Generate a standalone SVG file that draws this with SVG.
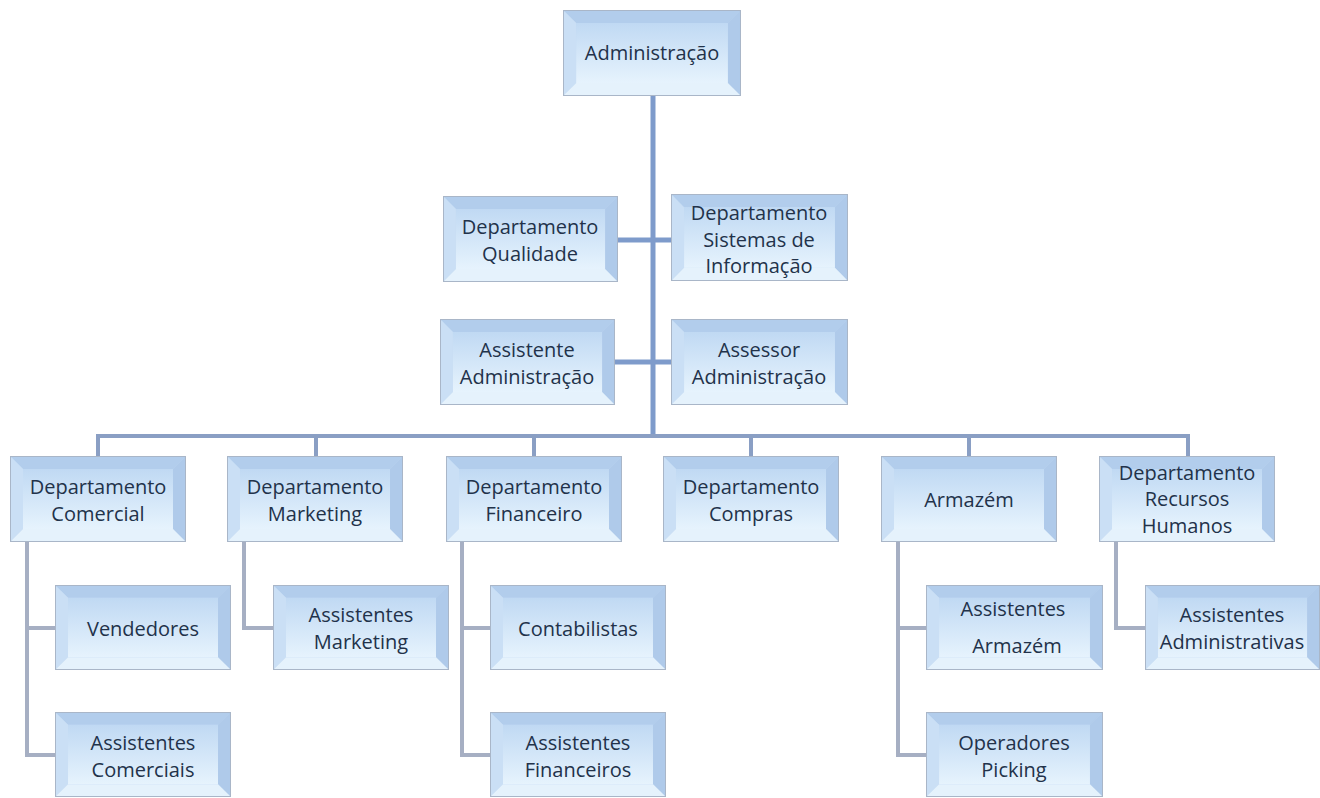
<svg xmlns="http://www.w3.org/2000/svg" width="1320" height="798" viewBox="0 0 1320 798">
<defs>
<linearGradient id="inner" x1="0" y1="0" x2="0" y2="1">
<stop offset="0" stop-color="#c0d9f3"/>
<stop offset="1" stop-color="#e6f3fd"/>
</linearGradient>
<symbol id="box" viewBox="0 0 176 86" preserveAspectRatio="none">
<rect x="0.5" y="0.5" width="175" height="85" fill="#bfd7f1" stroke="#a9b6c8" stroke-width="1.5"/>
<polygon points="1,1 175,1 163,13 13,13" fill="#b2cdec"/>
<polygon points="1,1 13,13 13,73 1,85" fill="#cadff5"/>
<polygon points="175,1 175,85 163,73 163,13" fill="#afcaea"/>
<polygon points="1,85 13,73 163,73 175,85" fill="#e5f2fc"/>
<rect x="13" y="13" width="150" height="60" fill="url(#inner)"/>
</symbol>
</defs>
<style>
text{font-family:"Open Sans","Liberation Sans",Arial,sans-serif;font-size:20px;fill:#22324a;text-anchor:middle;dominant-baseline:central}
.trunk{stroke:#7e9bcb;stroke-width:5;fill:none}
.bus{stroke:#8a9fc4;stroke-width:4;fill:none}
.sub{stroke:#a6afc3;stroke-width:4;fill:none}
</style>
<rect width="1320" height="798" fill="#ffffff"/>
<g id="connectors">
<path class="trunk" d="M653,96 V438"/>
<path class="trunk" d="M618,240 H671 M615,362 H671"/>
<path class="bus" d="M98,456 V436 H1188 V456 M316,436 V456 M534,436 V456 M751,436 V456 M969,436 V456"/>
<path class="sub" d="M27,542 V755 H55 M27,628 H55"/>
<path class="sub" d="M244,542 V628 H273"/>
<path class="sub" d="M462,542 V755 H490 M462,628 H490"/>
<path class="sub" d="M898,542 V755 H926 M898,628 H926"/>
<path class="sub" d="M1116,542 V628 H1145"/>
</g>
<g id="n-admin"><use href="#box" x="563" y="10" width="178" height="86"/><text x="652" y="52">Administração</text></g>
<g id="n-qualidade"><use href="#box" x="443" y="196" width="175" height="86"/><text x="530" y="226">Departamento</text><text x="530" y="253">Qualidade</text></g>
<g id="n-sistemas"><use href="#box" x="671" y="194" width="177" height="87"/><text x="759" y="212">Departamento</text><text x="759" y="239">Sistemas de</text><text x="759" y="265">Informação</text></g>
<g id="n-assistente"><use href="#box" x="440" y="319" width="175" height="86"/><text x="527" y="349">Assistente</text><text x="527" y="376">Administração</text></g>
<g id="n-assessor"><use href="#box" x="671" y="319" width="177" height="86"/><text x="759" y="349">Assessor</text><text x="759" y="376">Administração</text></g>
<g id="n-comercial"><use href="#box" x="10" y="456" width="176" height="86"/><text x="98" y="486">Departamento</text><text x="98" y="513">Comercial</text></g>
<g id="n-marketing"><use href="#box" x="227" y="456" width="176" height="86"/><text x="315" y="486">Departamento</text><text x="315" y="513">Marketing</text></g>
<g id="n-financeiro"><use href="#box" x="446" y="456" width="176" height="86"/><text x="534" y="486">Departamento</text><text x="534" y="513">Financeiro</text></g>
<g id="n-compras"><use href="#box" x="663" y="456" width="176" height="86"/><text x="751" y="486">Departamento</text><text x="751" y="513">Compras</text></g>
<g id="n-armazem"><use href="#box" x="881" y="456" width="176" height="86"/><text x="969" y="499">Armazém</text></g>
<g id="n-rh"><use href="#box" x="1099" y="456" width="176" height="86"/><text x="1187" y="472">Departamento</text><text x="1187" y="498">Recursos</text><text x="1187" y="525">Humanos</text></g>
<g id="n-vendedores"><use href="#box" x="55" y="585" width="176" height="85"/><text x="143" y="628">Vendedores</text></g>
<g id="n-asscomerciais"><use href="#box" x="55" y="712" width="176" height="85"/><text x="143" y="742">Assistentes</text><text x="143" y="769">Comerciais</text></g>
<g id="n-assmarketing"><use href="#box" x="273" y="585" width="176" height="85"/><text x="361" y="614">Assistentes</text><text x="361" y="641">Marketing</text></g>
<g id="n-contabilistas"><use href="#box" x="490" y="585" width="176" height="85"/><text x="578" y="628">Contabilistas</text></g>
<g id="n-assfinanceiros"><use href="#box" x="490" y="712" width="176" height="85"/><text x="578" y="742">Assistentes</text><text x="578" y="769">Financeiros</text></g>
<g id="n-assarmazem"><use href="#box" x="926" y="585" width="177" height="85"/><text x="1013" y="608">Assistentes</text><text x="1017" y="645">Armazém</text></g>
<g id="n-operadores"><use href="#box" x="926" y="712" width="177" height="85"/><text x="1014" y="742">Operadores</text><text x="1014" y="769">Picking</text></g>
<g id="n-assadministrativas"><use href="#box" x="1145" y="585" width="175" height="85"/><text x="1232" y="614">Assistentes</text><text x="1232" y="641">Administrativas</text></g>
</svg>
